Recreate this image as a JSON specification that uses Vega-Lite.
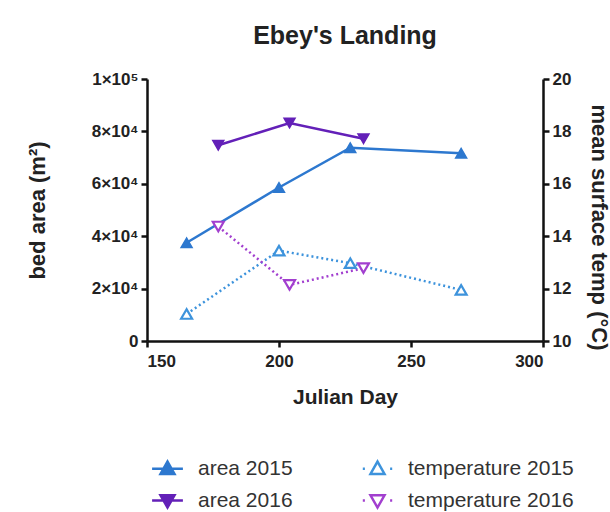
{
  "$schema": "https://vega.github.io/schema/vega-lite/v6.json",
  "width": 396,
  "height": 262,
  "autosize": {"type": "none"},
  "padding": {"left": 147, "top": 79, "right": 67, "bottom": 171},
  "background": "white",
  "title": {
    "text": "Ebey's Landing",
    "font": "Liberation Sans",
    "fontSize": 25,
    "fontWeight": "bold",
    "color": "#222222",
    "anchor": "middle",
    "offset": 21
  },
  "config": {
    "view": {"stroke": null},
    "axis": {
      "grid": false,
      "domainColor": "#111111",
      "domainWidth": 2.5,
      "tickColor": "#111111",
      "tickWidth": 2.5,
      "tickSize": 6,
      "labelFont": "Liberation Sans",
      "labelFontWeight": "bold",
      "labelFontSize": 17,
      "labelColor": "#222222",
      "titleFont": "Liberation Sans",
      "titleFontWeight": "bold",
      "titleFontSize": 21,
      "titleColor": "#222222"
    }
  },
  "data": {
    "values": [
      {"day": 165, "value": 37500, "series": "area 2015", "measure": "area", "year": "2015"},
      {"day": 200, "value": 58600, "series": "area 2015", "measure": "area", "year": "2015"},
      {"day": 227, "value": 73800, "series": "area 2015", "measure": "area", "year": "2015"},
      {"day": 269, "value": 71700, "series": "area 2015", "measure": "area", "year": "2015"},
      {"day": 177, "value": 74700, "series": "area 2016", "measure": "area", "year": "2016"},
      {"day": 204, "value": 83200, "series": "area 2016", "measure": "area", "year": "2016"},
      {"day": 232, "value": 77200, "series": "area 2016", "measure": "area", "year": "2016"},
      {"day": 165, "value": 11.03, "series": "temperature 2015", "measure": "temperature", "year": "2015"},
      {"day": 200, "value": 13.45, "series": "temperature 2015", "measure": "temperature", "year": "2015"},
      {"day": 227, "value": 12.97, "series": "temperature 2015", "measure": "temperature", "year": "2015"},
      {"day": 269, "value": 11.95, "series": "temperature 2015", "measure": "temperature", "year": "2015"},
      {"day": 177, "value": 14.37, "series": "temperature 2016", "measure": "temperature", "year": "2016"},
      {"day": 204, "value": 12.14, "series": "temperature 2016", "measure": "temperature", "year": "2016"},
      {"day": 232, "value": 12.78, "series": "temperature 2016", "measure": "temperature", "year": "2016"}
    ]
  },
  "encoding": {
    "x": {
      "field": "day",
      "type": "quantitative",
      "scale": {"domain": [150, 300], "nice": false},
      "axis": {
        "values": [150, 200, 250, 300],
        "title": "Julian Day",
        "labelPadding": 6,
        "titlePadding": 17
      }
    },
    "stroke": {
      "field": "series",
      "type": "nominal",
      "scale": {
        "domain": ["area 2015", "area 2016", "temperature 2015", "temperature 2016"],
        "range": ["#2d78cf", "#6320b8", "#3d93dc", "#a23fcf"]
      },
      "legend": {
        "title": null,
        "orient": "none",
        "legendX": 10,
        "legendY": 379,
        "columns": 2,
        "direction": "vertical",
        "padding": 0,
        "columnPadding": 64,
        "rowPadding": 10,
        "symbolSize": 196,
        "symbolStrokeWidth": 2.5,
        "labelFont": "Liberation Sans",
        "labelFontSize": 21,
        "labelColor": "#333333",
        "labelOffset": 20,
        "labelLimit": 300,
        "encode": {
          "symbols": {
            "update": {
              "shape": {"signal": "datum.value == 'area 2015' ? 'M-2.2,0H2.2M-1,0.75L1,0.75L0,-1Z' : datum.value == 'area 2016' ? 'M-2.2,0H2.2M-1,-0.75L1,-0.75L0,1Z' : datum.value == 'temperature 2015' ? 'M-2.1,0H-1.8M1.8,0H2.1M-1,0.75L1,0.75L0,-1Z' : 'M-2.1,0H-1.8M1.8,0H2.1M-1,-0.75L1,-0.75L0,1Z'"},
              "fill": {"signal": "datum.value == 'area 2015' ? '#2d78cf' : datum.value == 'area 2016' ? '#6320b8' : 'white'"},
              "strokeWidth": {"value": 2.5},
              "strokeDash": {"value": []},
              "opacity": {"value": 1}
            }
          }
        }
      }
    }
  },
  "layer": [
    {
      "transform": [{"filter": "datum.measure == 'area'"}],
      "encoding": {
        "y": {
          "field": "value",
          "type": "quantitative",
          "scale": {"domain": [0, 100000], "nice": false},
          "axis": {
            "orient": "left",
            "values": [0, 20000, 40000, 60000, 80000, 100000],
            "labelExpr": "datum.value == 0 ? '0' : datum.value == 100000 ? '1×10⁵' : (datum.value / 10000) + '×10⁴'",
            "labelPadding": 3,
            "title": "bed area (m²)",
            "titleFontSize": 22,
            "titleAngle": -90,
            "titleBaseline": "middle",
            "titleAlign": "center",
            "titleX": -110,
            "titleY": 131
          }
        }
      },
      "layer": [
        {
          "mark": {"type": "line", "strokeWidth": 2.5}
        },
        {
          "mark": {"type": "point", "size": 120, "strokeWidth": 1.5, "opacity": 1, "filled": true},
          "encoding": {
            "fill": {
              "field": "year",
              "type": "nominal",
              "scale": {"domain": ["2015", "2016"], "range": ["#2d78cf", "#6320b8"]},
              "legend": null
            },
            "shape": {
              "field": "year",
              "type": "nominal",
              "scale": {"domain": ["2015", "2016"], "range": ["triangle-up", "triangle-down"]},
              "legend": null
            }
          }
        }
      ]
    },
    {
      "transform": [{"filter": "datum.measure == 'temperature'"}],
      "encoding": {
        "y": {
          "field": "value",
          "type": "quantitative",
          "scale": {"domain": [10, 20], "nice": false},
          "axis": {
            "orient": "right",
            "values": [10, 12, 14, 16, 18, 20],
            "labelPadding": 3,
            "title": "mean surface temp (°C)",
            "titleFontSize": 22,
            "titleAngle": 90,
            "titleBaseline": "middle",
            "titleAlign": "center",
            "titleX": 55,
            "titleY": 148
          }
        }
      },
      "layer": [
        {
          "mark": {"type": "line", "strokeWidth": 2.5, "strokeDash": [2, 3]}
        },
        {
          "mark": {"type": "point", "size": 120, "strokeWidth": 2.2, "opacity": 1, "fill": "white"},
          "encoding": {
            "shape": {
              "field": "year",
              "type": "nominal",
              "scale": {"domain": ["2015", "2016"], "range": ["triangle-up", "triangle-down"]},
              "legend": null
            }
          }
        }
      ]
    }
  ],
  "resolve": {"scale": {"y": "independent"}}
}
